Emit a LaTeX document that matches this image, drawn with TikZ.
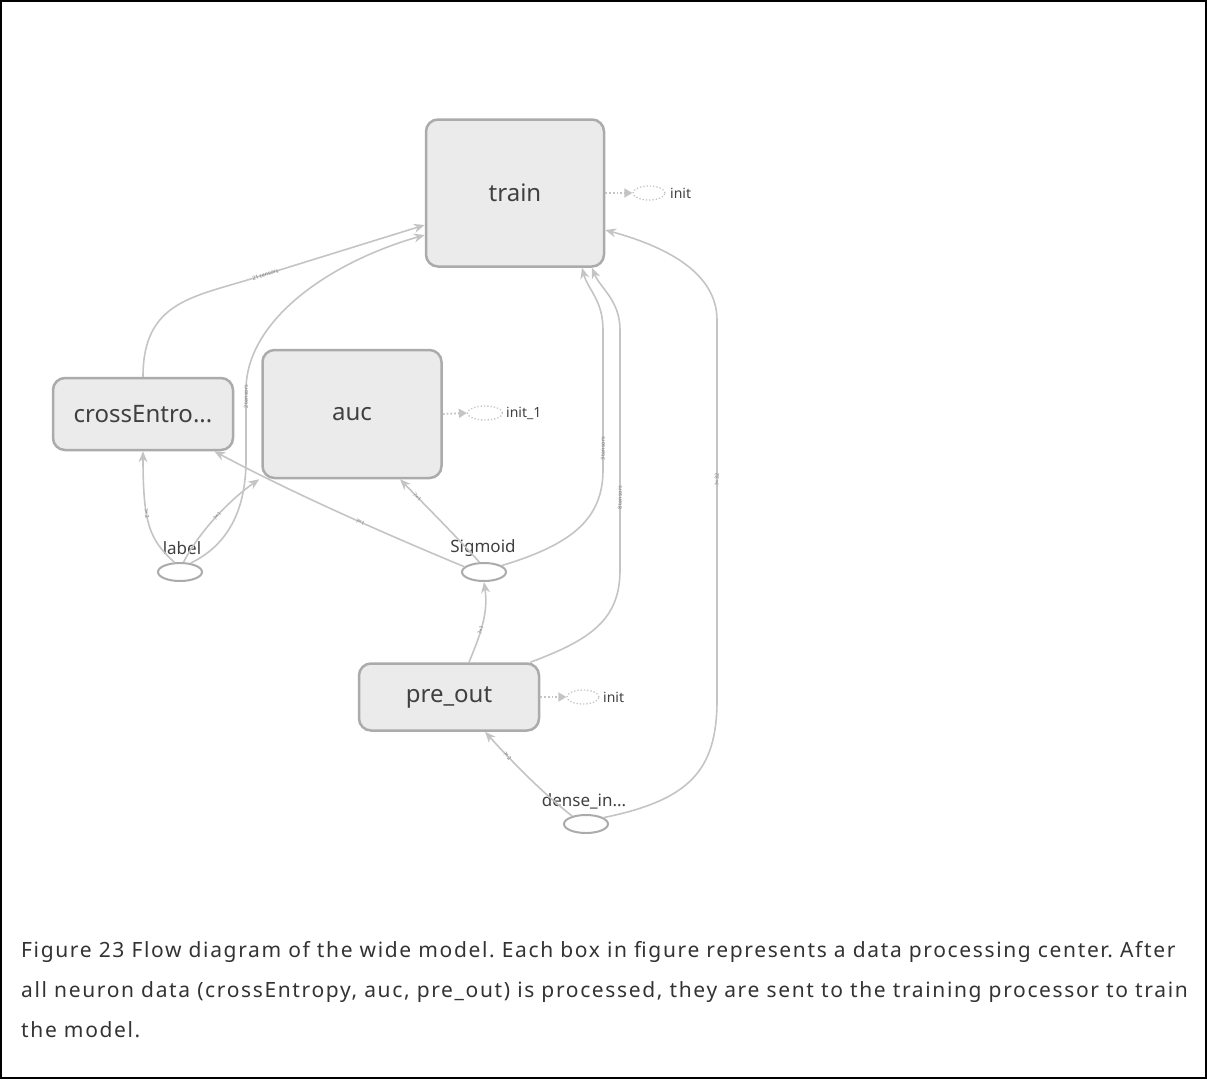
\documentclass[tikz,border=0pt]{standalone}
\usepackage{fontspec}
\setmainfont{Noto Sans}
\newfontfamily\capfont[LetterSpace=7.8]{Noto Sans}
\usetikzlibrary{arrows.meta,shapes.geometric}
\definecolor{boxfill}{HTML}{EBEBEB}
\definecolor{boxline}{HTML}{ABABAB}
\definecolor{edgec}{HTML}{C4C4C4}
\definecolor{txt}{HTML}{404040}
\definecolor{captxt}{HTML}{333333}
\frenchspacing
\begin{document}
\begin{tikzpicture}[x=1pt,y=-1pt,
 box/.style={draw=boxline, fill=boxfill, rounded corners=12pt, line width=2.5pt, font=\fontsize{24}{28}\selectfont, text=txt},
 op/.style={ellipse, draw=boxline, line width=2pt, minimum width=44pt, minimum height=18pt, inner sep=0pt},
 optext/.style={font=\fontsize{17}{20}\selectfont, text=txt, inner sep=0pt},
 edge/.style={draw=edgec, line width=1.6pt, -{Stealth[length=11pt,width=9pt]}},
 elab/.style={font=\fontsize{5.5}{6}\selectfont, text=gray, sloped, inner sep=0.5pt},
 initell/.style={ellipse, draw=edgec, dotted, line width=1.3pt, minimum width=32pt, minimum height=14pt, inner sep=0pt},
 initarr/.style={draw=edgec, dotted, line width=1.8pt, -{Triangle[length=8pt,width=9pt]}},
 inittext/.style={font=\fontsize{14}{16}\selectfont, text=txt, inner sep=0pt, anchor=west},
 captext/.style={font=\capfont\fontsize{21}{25}\selectfont, text=captxt, anchor=base west, inner sep=0pt}
]
\useasboundingbox (0,0) rectangle (1207,1079);
\draw[line width=1.5pt] (1,1) rectangle (1206,1078);

% boxes
\node[box, minimum width=178pt, minimum height=147pt] (train) at (515,193) {train};
\node[box, minimum width=180pt, minimum height=72pt] (ce) at (143,414) {crossEntro...};
\node[box, minimum width=179pt, minimum height=128pt] (auc) at (352,414) {auc};
\node[box, minimum width=180pt, minimum height=67pt] (pre) at (449,697) {pre\_out};

% op ellipses
\node[op] (lab) at (180,572) {};
\node[optext] (labt) at (182,548) {label};
\node[op] (sig) at (484,572) {};
\node[optext] (sigt) at (483,548) {Sigmoid};
\node[op] (den) at (586,824) {};
\node[optext] (dent) at (584,801) {dense\_in...};

% init nodes
\node[initell] (i0) at (649,193) {};
\node[inittext] (i0t) at (670,193) {init};
\draw[initarr] (train.east) -- (i0.west);
\node[initell, minimum width=35pt] (i1) at (485,413) {};
\node[inittext] (i1t) at (506,413) {init\_1};
\draw[initarr] (auc.east) -- (i1.west);
\node[initell] (i2) at (583,697) {};
\node[inittext] (i2t) at (603,697) {init};
\draw[initarr] (pre.east) -- (i2.west);

% edges
\draw[edge] (ce.north) .. controls (143,300) and (195,297) .. (257,277)
  -- node[elab, pos=0.05] {21 tensors} ([yshift=-32pt]train.west);
\draw[edge] (lab.40) .. controls (228,545) and (246,510) .. (246,460)
  -- node[elab, pos=0.9] {2 tensors} (246,390) .. controls (246,320) and (330,262) .. ([yshift=-42pt]train.west);
\draw[edge] (lab.120) .. controls (150,540) and (143,525) .. node[elab, pos=0.62] {?×2} (ce.south);
\draw[edge] (lab.70) .. controls (200,530) and (232,498) .. node[elab, pos=0.5] {?×1} ([xshift=-2pt]auc.south west);
\draw[edge] (sig.165) .. controls (400,540) and (300,497) .. node[elab, pos=0.45] {?×1} ([xshift=-20pt]ce.south east);
\draw[edge] (sig.115) .. controls (455,535) and (420,500) .. node[elab, pos=0.75] {?×1} ([xshift=48pt]auc.south);
\draw[edge] (sig.20) .. controls (570,545) and (603,520) .. (603,470)
  -- node[elab, pos=0.15] {3 tensors} (603,330) .. controls (603,300) and (588,290) .. ([xshift=67pt]train.south);
\draw[edge] ([xshift=20pt]pre.north) .. controls (478,640) and (489,615) .. node[elab, pos=0.45] {?×1} (sig.south);
\draw[edge] ([xshift=-10pt]pre.north east) .. controls (590,640) and (620,620) .. (620,570)
  -- node[elab, pos=0.3] {8 tensors} (620,330) .. controls (620,300) and (600,288) .. ([xshift=77pt]train.south);
\draw[edge] (den.150) .. controls (545,795) and (515,765) .. node[elab, pos=0.75] {?×2} ([xshift=36pt]pre.south);
\draw[edge] (den.20) .. controls (690,800) and (717,770) .. (717,700)
  -- node[elab, pos=0.58] {?×32} (717,320) .. controls (717,270) and (660,245) .. ([yshift=-37pt]train.east);

% caption
\node[captext] (c1) at (21,957) {Figure 23 Flow diagram of the wide model. Each box in figure represents a data processing center. After};
\node[captext] (c2) at (21,997) {all neuron data (crossEntropy, auc, pre\_out) is processed, they are sent to the training processor to train};
\node[captext] (c3) at (21,1037) {the model.};
\end{tikzpicture}
\end{document}
